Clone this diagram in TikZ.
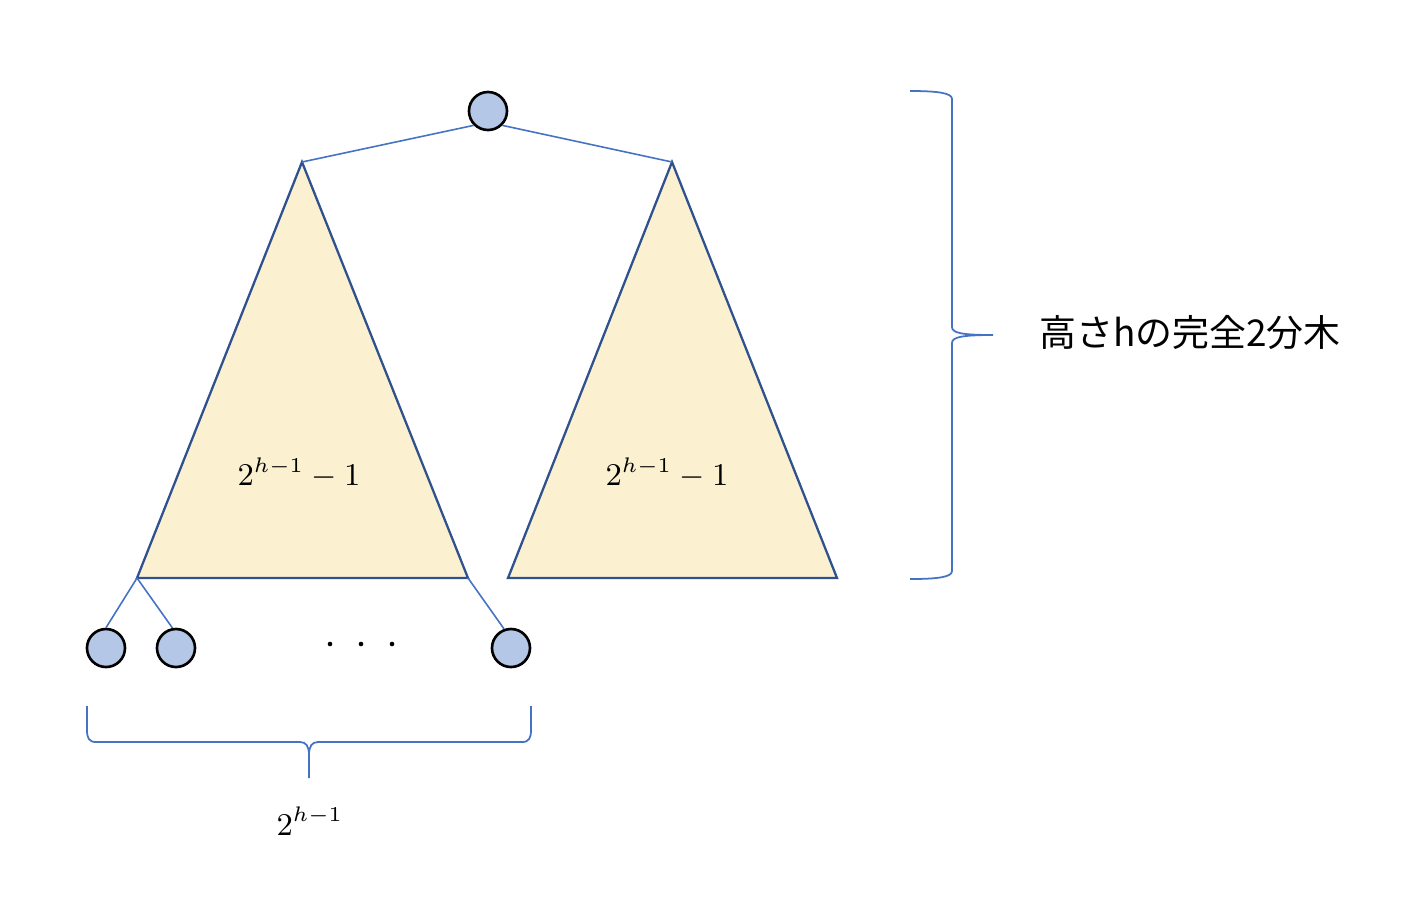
\documentclass[tikz,border=0pt]{standalone}
\usepackage{fontspec}
\newfontfamily\jpfont{Noto Sans CJK JP}
\usepackage{xcolor}
\definecolor{vertfill}{HTML}{B4C7E7}
\definecolor{treefill}{HTML}{FBF1D1}
\definecolor{treeline}{HTML}{2F528F}
\definecolor{linkblue}{HTML}{4472C4}
\usepackage{tikz}
\usetikzlibrary{positioning,calc}

\begin{document}
\begin{tikzpicture}[x=0.01cm,y=-0.01cm,
  vert/.style={circle,draw=black,line width=0.75pt,fill=vertfill,
               minimum size=0.38cm,inner sep=0pt},
  subtree/.style={draw=treeline,fill=treefill,line width=0.65pt,line join=miter},
  link/.style={draw=linkblue,line width=0.45pt},
  brace/.style={draw=linkblue,line width=0.5pt},
  count/.style={font=\fontsize{9}{11}\selectfont}
]
\useasboundingbox (0,0) rectangle (1410,902);

% Teilbaeume
\coordinate (la) at (302,162);
\coordinate (lb) at (137,578);
\coordinate (lc) at (468,578);
\coordinate (ra) at (672,162);
\coordinate (rb) at (508,578);
\coordinate (rc) at (837,578);
\path[subtree] (la) -- (lb) -- (lc) -- cycle;
\path[subtree] (ra) -- (rb) -- (rc) -- cycle;
\node[count] (lt) at (299,473) {$2^{h-1}-1$};
\node[count] (rt) at (667,473) {$2^{h-1}-1$};

% Wurzel
\node[vert] (root) at (488,111) {};
\draw[link] (root.225) -- (la);
\draw[link] (root.-45) -- (ra);

% Blaetter
\node[vert] (l1) at (106,648) {};
\node[vert] (l2) at (176,648) {};
\node[vert] (l3) at (511,648) {};
\draw[link] (lb) -- (l1.north);
\draw[link] (lb) -- (l2.100);
\draw[link] (lc) -- (l3.110);
\foreach \x in {330,361,392}
  \fill (\x,644) circle (2.3);

% Klammer rechts
\coordinate (rtip) at (993,335);
\draw[brace] (910,91) .. controls (938,91) and (952,93) .. (952,99)
  -- (952,327) .. controls (952,333) and (962,335) .. (rtip)
  .. controls (962,335) and (952,337) .. (952,343)
  -- (952,571) .. controls (952,577) and (938,579) .. (910,579);
\node[font=\jpfont\fontsize{10.5}{12}\selectfont,anchor=west] (hlabel) at (1027,333)
  {高さhの完全2分木};

% Klammer unten
\coordinate (btip) at (309,778);
\draw[brace] (87,706) -- (87,730) .. controls (87,738) and (89,742) .. (96,742)
  -- (300,742) .. controls (306,742) and (309,746) .. (309,755) -- (btip);
\draw[brace] (531,706) -- (531,730) .. controls (531,738) and (529,742) .. (522,742)
  -- (318,742) .. controls (312,742) and (309,746) .. (309,755);
\node[count] (blabel) at (310,821) {$2^{h-1}$};

\end{tikzpicture}
\end{document}
